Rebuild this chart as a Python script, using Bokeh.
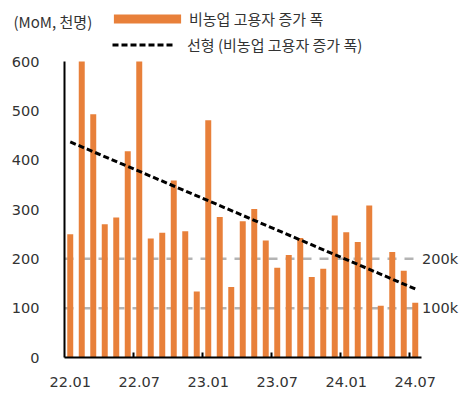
from bokeh.plotting import figure
from bokeh.models import (Range1d, FixedTicker, Legend, LegendItem, Label)
from bokeh.embed import file_html
from bokeh.resources import INLINE

# ---- data ----
months = ["22.01", "22.02", "22.03", "22.04", "22.05", "22.06", "22.07", "22.08",
          "22.09", "22.10", "22.11", "22.12", "23.01", "23.02", "23.03", "23.04",
          "23.05", "23.06", "23.07", "23.08", "23.09", "23.10", "23.11", "23.12",
          "24.01", "24.02", "24.03", "24.04", "24.05", "24.06", "24.07"]
payrolls = [250, 600, 493, 270, 284, 418, 600, 241, 253, 359, 256, 134, 481, 285,
            143, 276, 301, 237, 182, 208, 242, 163, 180, 288, 254, 234, 308, 105,
            214, 176, 111]
trend_start = 437
trend_end = 139
ref_levels = [200, 100]
ref_labels = ["200k", "100k"]
y_ticks = [0, 100, 200, 300, 400, 500, 600]
label_every = 6
bar_name = "비농업 고용자 증가 폭"
trend_name = "선형 (비농업 고용자 증가 폭)"
unit_text = "(MoM, 천명)"

FONT = "Noto Sans CJK KR"
NUMFONT = "DejaVu Sans"
TXT = "#333333"
BAR = "#E8803A"

W, H = 474, 396
LEFT, BOTTOM = 64, 39
ZERO_Y = H - BOTTOM           # 357, pixel row of value 0
PX_PER_UNIT = 296 / 600
CAT_PX = 11.5

n = len(months)
xs = list(range(n))
y_max = max(y_ticks)
x0 = -0.5 - LEFT / CAT_PX
y0 = -BOTTOM / PX_PER_UNIT

p = figure(width=W, height=H, output_backend="svg", toolbar_location=None,
           x_range=Range1d(x0, x0 + W / CAT_PX),
           y_range=Range1d(y0, y0 + H / PX_PER_UNIT),
           min_border_left=0, min_border_right=0, min_border_top=0,
           min_border_bottom=0)
p.outline_line_color = None
p.xgrid.visible = False
p.ygrid.visible = False

# reference lines (behind bars)
for lvl, lab in zip(ref_levels, ref_labels):
    p.line(x=[-0.5, n - 0.5], y=[lvl, lvl], line_color="#B4B4B4",
           line_width=2.5, line_dash="9 8")
    p.add_layout(Label(x=n - 0.5, y=lvl, text=lab, x_offset=1,
                       text_font=NUMFONT, text_font_size="14.5px", text_color=TXT,
                       text_baseline="middle", text_align="left"))

bars = p.vbar(x=xs, top=payrolls, width=0.52, fill_color=BAR, line_color=None)
trend = p.line(x=[xs[0], xs[-1]], y=[trend_start, trend_end], line_color="black",
               line_width=3, line_dash="6 3")

# axes
ya = p.yaxis[0]
ya.fixed_location = -0.5
ya.ticker = FixedTicker(ticks=y_ticks)
ya.bounds = (0, y_max)
ya.axis_line_width = 2
ya.axis_line_color = "black"
ya.major_tick_line_color = None
ya.minor_tick_line_color = None
ya.major_label_standoff = 19
ya.major_label_text_font = NUMFONT
ya.major_label_text_font_size = "14.5px"
ya.major_label_text_color = TXT

xa = p.xaxis[0]
xa.fixed_location = 0
major = xs[::label_every]
minor = [i - 0.5 for i in major[1:]]
xa.ticker = FixedTicker(ticks=major, minor_ticks=minor)
xa.major_label_overrides = {i: months[i] for i in major}
xa.bounds = (-0.5, n - 0.5)
xa.axis_line_width = 2
xa.axis_line_color = "black"
xa.major_tick_line_color = None
xa.minor_tick_in = 5
xa.minor_tick_out = 0
xa.minor_tick_line_width = 2
xa.minor_tick_line_color = "black"
xa.major_label_standoff = 13
xa.major_label_text_font = NUMFONT
xa.major_label_text_font_size = "14.5px"
xa.major_label_text_color = TXT

# legends
def make_legend(item_name, rend, gw, gh, standoff, loc):
    lg = Legend(items=[LegendItem(label=item_name, renderers=[rend])],
                location=loc, glyph_width=gw, glyph_height=gh,
                label_standoff=standoff, padding=0, margin=0, spacing=0,
                border_line_alpha=0, background_fill_alpha=0,
                label_text_font=FONT, label_text_font_size="15px",
                label_text_color=TXT)
    p.add_layout(lg)

make_legend(bar_name, bars, 84, 11, 0, (LEFT + 41, BOTTOM + 328))
make_legend(trend_name, trend, 61, 11, 14, (LEFT + 48, BOTTOM + 302))

p.add_layout(Label(x=13, y=H - 21, text=unit_text,
                   x_units="screen", y_units="screen", text_font=FONT,
                   text_font_size="15px", text_color=TXT,
                   text_baseline="middle", text_align="left"))

open("out.html", "w").write(file_html(p, INLINE))
